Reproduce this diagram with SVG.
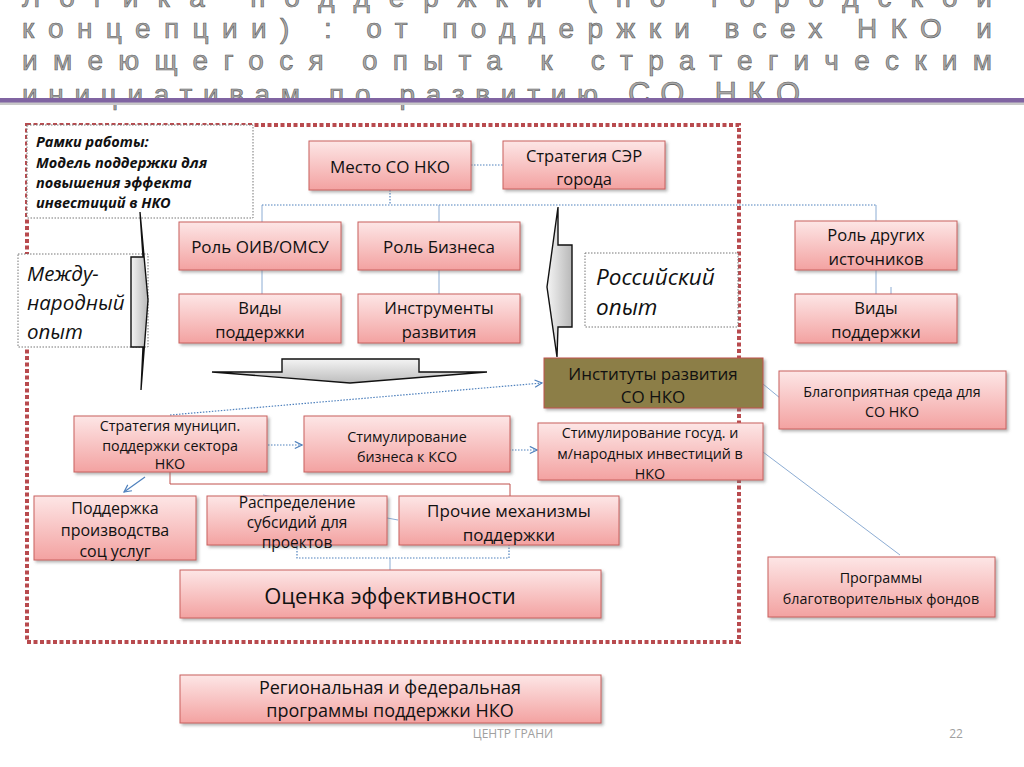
<svg xmlns="http://www.w3.org/2000/svg" width="1024" height="767" viewBox="0 0 1024 767">
<defs>
  <linearGradient id="pink" x1="0" y1="0" x2="0" y2="1">
    <stop offset="0" stop-color="#fde6e6"/>
    <stop offset="1" stop-color="#f3a2a1"/>
  </linearGradient>
  <linearGradient id="grayH" x1="0" y1="0" x2="1" y2="0">
    <stop offset="0" stop-color="#f4f4f4"/>
    <stop offset="1" stop-color="#b8b8b8"/>
  </linearGradient>
  <linearGradient id="grayV" x1="0" y1="0" x2="0" y2="1">
    <stop offset="0" stop-color="#f4f4f4"/>
    <stop offset="1" stop-color="#bdbdbd"/>
  </linearGradient>
  <filter id="sh" x="-10%" y="-10%" width="130%" height="140%">
    <feDropShadow dx="2" dy="2" stdDeviation="1.5" flood-color="#777" flood-opacity="0.55"/>
  </filter>
  <marker id="open" viewBox="0 0 10 10" refX="9" refY="5" markerWidth="9" markerHeight="9" markerUnits="userSpaceOnUse" orient="auto">
    <path d="M1,1 L9,5 L1,9" fill="none" stroke="#4f81bd" stroke-width="1.3"/>
  </marker>
  <style>
    .box { fill: url(#pink); stroke: #c9605e; stroke-width: 1; filter: url(#sh); }
    .t { font-family: "Open Sans", "Noto Sans", sans-serif; fill: #111; text-anchor: middle; dominant-baseline: central; }
    .s { font-size: 14.3px; }
    .m { font-size: 16.5px; }
    .ttl { font-family: "Liberation Sans", Arial, sans-serif; font-size: 28px; fill: #a8a8a8; stroke: #5a5a5a; stroke-width: 0.6; }
    .frame { fill: #fff; stroke: #777; stroke-width: 1; stroke-dasharray: 1.5 1.5; }
    .it { font-family: "Open Sans", "Noto Sans", sans-serif; font-style: italic; fill: #111; }
    .dot { fill: none; stroke: #4f81bd; stroke-width: 1.2; stroke-dasharray: 1.5 1.5; }
    .thin { fill: none; stroke: #6f97c8; stroke-width: 0.8; }
    .arrowshape { stroke: #111; stroke-width: 1.4; stroke-linejoin: miter; }
  </style>
</defs>
<rect width="1024" height="767" fill="#ffffff"/>

<!-- Title -->
<g id="title">
  <text class="ttl" x="22" y="7" textLength="970" lengthAdjust="spacing">Логика   поддержки   (по   городской</text>
  <text class="ttl" x="22" y="38" textLength="970" lengthAdjust="spacing">концепции) : от поддержки всех НКО и</text>
  <text class="ttl" x="22" y="70" textLength="970" lengthAdjust="spacing">имеющегося опыта к стратегическим</text>
  <text class="ttl" x="22" y="104" textLength="778" lengthAdjust="spacing">инициативам по развитию<tspan font-size="31"> СО НКО</tspan></text>
  <rect x="0" y="102" width="1024" height="3" fill="#c8c8c8"/>
  <rect x="0" y="98" width="1024" height="4.5" fill="#8064a2"/>
</g>

<!-- Red dotted frame -->
<rect id="border" x="27" y="125" width="712" height="517" fill="none" stroke="#b84a4e" stroke-width="4" stroke-dasharray="4 2.5"/>

<!-- Framing boxes -->
<g id="framework">
  <rect class="frame" x="27" y="125" width="226" height="93"/>
  <text class="it" font-weight="bold" font-size="14.5" x="36" y="147">Рамки работы:</text>
  <text class="it" font-weight="bold" font-size="14.5" x="36" y="168">Модель поддержки для</text>
  <text class="it" font-weight="bold" font-size="14.5" x="36" y="188">повышения эффекта</text>
  <text class="it" font-weight="bold" font-size="14.5" x="36" y="208">инвестиций в НКО</text>
</g>
<g id="international">
  <rect class="frame" x="18" y="254" width="130" height="93"/>
  <text class="it" font-size="20.5" x="27" y="281">Между-</text>
  <text class="it" font-size="20.5" x="27" y="310">народный</text>
  <text class="it" font-size="20.5" x="27" y="339">опыт</text>
</g>
<g id="russian">
  <rect class="frame" x="585" y="253" width="153" height="74"/>
  <text class="it" font-size="22.5" x="596" y="285">Российский</text>
  <text class="it" font-size="22.5" x="596" y="315">опыт</text>
</g>

<!-- Block arrows -->
<g id="arrows">
  <polygon class="arrowshape" fill="url(#grayH)" points="140,212 148,300 141,390 143,347 131,347 131,257 143,257"/>
  <polygon class="arrowshape" fill="url(#grayH)" points="558,207 547,287 557,357 558,327 572,327 572,245 558,245"/>
  <polygon class="arrowshape" fill="url(#grayV)" points="212,372 282,372 282,359 419,359 419,372 487,372 350,383"/>
</g>

<!-- Connectors -->
<g id="connectors">
  <line class="dot" x1="471" y1="165" x2="503" y2="165"/>
  <polyline class="dot" points="390,190 390,205"/>
  <line class="dot" x1="262" y1="205" x2="876" y2="205"/>
  <line class="thin" x1="262" y1="205" x2="262" y2="222"/>
  <line class="thin" x1="439" y1="205" x2="439" y2="222"/>
  <line class="thin" x1="876" y1="205" x2="876" y2="221"/>
  <line class="thin" x1="262" y1="270" x2="262" y2="294"/>
  <line class="thin" x1="439" y1="270" x2="439" y2="294"/>
  <line class="thin" x1="876" y1="270" x2="876" y2="294"/>
  <line class="thin" stroke="#b0bfd3" x1="891" y1="287" x2="891" y2="300"/>
  <line class="dot" x1="170" y1="415" x2="542" y2="383" marker-end="url(#open)"/>
  <line class="dot" x1="268" y1="445" x2="302" y2="445" marker-end="url(#open)"/>
  <line class="dot" x1="500" y1="450" x2="537" y2="450" marker-end="url(#open)"/>
  <line x1="145" y1="477" x2="124" y2="492" stroke="#4f81bd" stroke-width="1.2" marker-end="url(#open)"/>
  <polyline points="170,472 170,484 510,484 510,496" fill="none" stroke="#c0504d" stroke-width="1"/>
  <line class="thin" x1="263" y1="495" x2="398" y2="520"/>
  <polyline class="dot" points="297,545 297,558 509,558 509,545"/>
  <line class="thin" x1="390" y1="558" x2="390" y2="570"/>
  <line class="thin" x1="763" y1="384" x2="780" y2="398"/>
  <line class="thin" x1="763" y1="452" x2="900" y2="555"/>
</g>

<!-- Nodes -->
<g id="n-mesto"><rect class="box" x="309" y="141" width="162" height="49"/>
  <text class="t" font-size="17" x="390" y="166">Место СО НКО</text></g>
<g id="n-strategy-ser"><rect class="box" x="503" y="141" width="162" height="48"/>
  <text class="t m" x="584" y="155">Стратегия СЭР</text>
  <text class="t m" x="584" y="178">города</text></g>
<g id="n-role-oiv"><rect class="box" x="179" y="222" width="162" height="48"/>
  <text class="t" font-size="17" x="260" y="246">Роль ОИВ/ОМСУ</text></g>
<g id="n-role-biz"><rect class="box" x="358" y="222" width="162" height="48"/>
  <text class="t" font-size="17" x="439" y="246">Роль Бизнеса</text></g>
<g id="n-vidy-left"><rect class="box" x="179" y="294" width="162" height="49"/>
  <text class="t m" x="260" y="307">Виды</text>
  <text class="t m" x="260" y="331">поддержки</text></g>
<g id="n-instr"><rect class="box" x="358" y="294" width="162" height="49"/>
  <text class="t m" x="439" y="307">Инструменты</text>
  <text class="t m" x="439" y="331">развития</text></g>
<g id="n-role-other"><rect class="box" x="795" y="221" width="162" height="49"/>
  <text class="t m" x="876" y="234">Роль других</text>
  <text class="t m" x="876" y="258">источников</text></g>
<g id="n-vidy-right"><rect class="box" x="795" y="294" width="162" height="49"/>
  <text class="t m" x="876" y="307">Виды</text>
  <text class="t m" x="876" y="331">поддержки</text></g>
<g id="n-institutes"><rect x="544" y="358" width="219" height="50" fill="#8c7e47" stroke="#c0504d" stroke-width="1" filter="url(#sh)"/>
  <text class="t" font-size="17" x="653" y="373">Институты развития</text>
  <text class="t" font-size="17" x="653" y="396">СО НКО</text></g>
<g id="n-env"><rect class="box" x="779" y="371" width="227" height="58"/>
  <text class="t s" x="892" y="391">Благоприятная среда для</text>
  <text class="t s" x="892" y="411">СО НКО</text></g>
<g id="n-munic"><rect class="box" x="74" y="416" width="193" height="56"/>
  <text class="t s" x="170" y="425">Стратегия  муницип.</text>
  <text class="t s" x="170" y="445">поддержки сектора</text>
  <text class="t s" x="170" y="463">НКО</text></g>
<g id="n-stim-biz"><rect class="box" x="304" y="416" width="206" height="56"/>
  <text class="t s" x="407" y="436">Стимулирование</text>
  <text class="t s" x="407" y="456">бизнеса к КСО</text></g>
<g id="n-stim-gov"><rect class="box" x="538" y="423" width="225" height="57"/>
  <text class="t s" x="650" y="432">Стимулирование госуд. и</text>
  <text class="t s" x="650" y="453">м/народных инвестиций  в</text>
  <text class="t s" x="650" y="473">НКО</text></g>
<g id="n-soc"><rect class="box" x="34" y="496" width="162" height="64"/>
  <text class="t" font-size="16" x="115" y="508">Поддержка</text>
  <text class="t" font-size="16" x="115" y="530">производства</text>
  <text class="t" font-size="16" x="115" y="551">соц услуг</text></g>
<g id="n-subsidies"><rect class="box" x="207" y="496" width="180" height="49"/>
  <text class="t" font-size="15.5" x="297" y="502">Распределение</text>
  <text class="t" font-size="15.5" x="297" y="522">субсидий для</text>
  <text class="t" font-size="15.5" x="297" y="542">проектов</text></g>
<g id="n-other-mech"><rect class="box" x="399" y="496" width="220" height="49"/>
  <text class="t" font-size="17" x="509" y="510">Прочие механизмы</text>
  <text class="t" font-size="17" x="509" y="534">поддержки</text></g>
<g id="n-eval"><rect class="box" x="180" y="570" width="421" height="48"/>
  <text class="t" font-size="22" x="390" y="595">Оценка эффективности</text></g>
<g id="n-charity"><rect class="box" x="768" y="557" width="227" height="60"/>
  <text class="t s" x="881" y="577">Программы</text>
  <text class="t s" x="881" y="598">благотворительных фондов</text></g>
<g id="n-regional"><rect class="box" x="180" y="675" width="421" height="48"/>
  <text class="t" font-size="18" x="390" y="687">Региональная и федеральная</text>
  <text class="t" font-size="18" x="390" y="710">программы поддержки НКО</text></g>

<!-- Footer -->
<g id="footer">
  <text x="513" y="738" font-family="Open Sans, sans-serif" font-size="12" fill="#a0a0a0" text-anchor="middle">ЦЕНТР ГРАНИ</text>
  <text x="956" y="738" font-family="Open Sans, sans-serif" font-size="12" fill="#a0a0a0" text-anchor="middle">22</text>
</g>
</svg>
